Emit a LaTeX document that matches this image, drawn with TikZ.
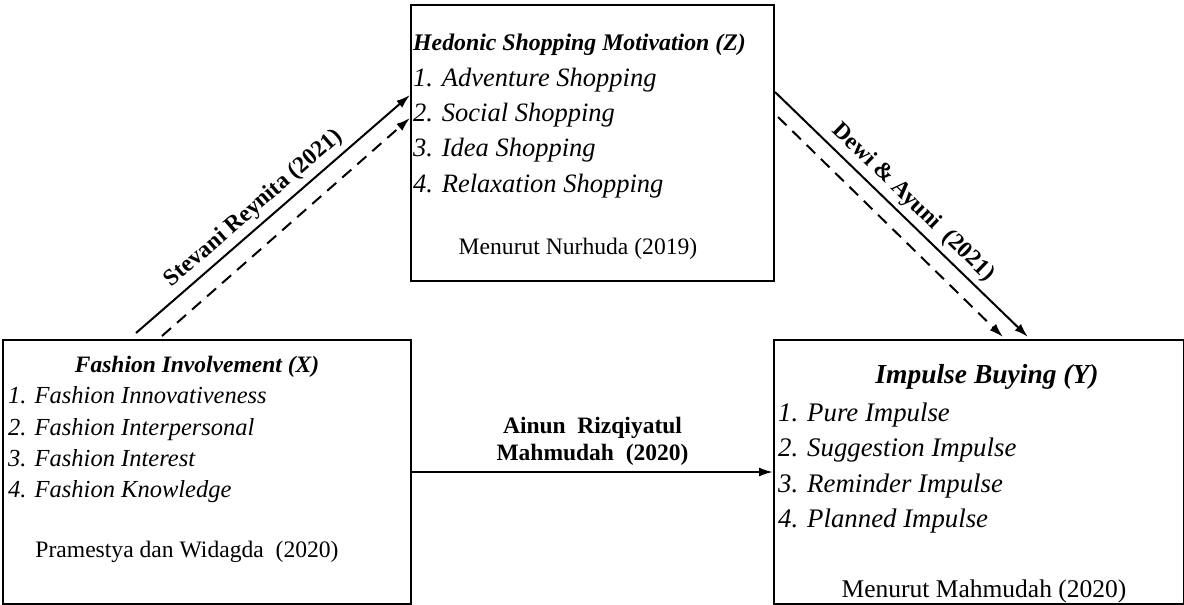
\documentclass[tikz,border=0pt]{standalone}
\usepackage{fontspec}
\setmainfont{Liberation Serif}
\usetikzlibrary{arrows.meta}

\begin{document}
\begin{tikzpicture}[x=1pt,y=-1pt,
  box/.style={draw, line width=2pt, inner sep=0pt, anchor=north west},
  head/.style={inner sep=0pt, font=\fontsize{23.5}{28}\selectfont\bfseries\itshape},
  item/.style={inner sep=0pt, anchor=base west},
  source/.style={inner sep=0pt, anchor=base, font=\fontsize{23.6}{28}\selectfont},
  link/.style={line width=2pt, -{Latex[length=14pt,width=9pt]}},
  ref/.style={font=\fontsize{23.5}{27}\selectfont\bfseries}]
\useasboundingbox (0,0) rectangle (1184,605);
\coordinate (x0) at (2,339);
\coordinate (z0) at (410,4);
\coordinate (y0) at (773,339);
\begin{scope}
% draws boxes
\node[box, minimum width=408pt, minimum height=264pt] (X) at (x0) {};
\node[box, minimum width=363pt, minimum height=276pt] (Z) at (z0) {};
\node[box, minimum width=410pt, minimum height=264pt] (Y) at (y0) {};
% labels fashion involvement
\node[head, anchor=base] (xhead) at (197,372) {Fashion Involvement (X)};
\begin{scope}[font=\fontsize{24.5}{30}\selectfont\itshape]
\node[item] (x1) at (8,403) {1. Fashion Innovativeness};
\node[item] (x2) at (8,435) {2. Fashion Interpersonal};
\node[item] (x3) at (8,466) {3. Fashion Interest};
\node[item] (x4) at (8,497) {4. Fashion Knowledge};
\end{scope}
\node[source] (xsrc) at (187,557) {Pramestya dan Widagda\ \ (2020)};
% labels hedonic shopping motivation
\node[head, anchor=base west, font=\fontsize{23.8}{28}\selectfont\bfseries\itshape] (zhead) at (413,50) {Hedonic Shopping Motivation (Z)};
\begin{scope}[font=\fontsize{26.5}{32}\selectfont\itshape]
\node[item] (z1) at (413,86) {1. Adventure Shopping};
\node[item] (z2) at (413,121) {2. Social Shopping};
\node[item] (z3) at (413,156) {3. Idea Shopping};
\node[item] (z4) at (413,192) {4. Relaxation Shopping};
\end{scope}
\node[source] (zsrc) at (578,254) {Menurut Nurhuda (2019)};
% labels impulse buying
\node[head, anchor=base, font=\fontsize{27.5}{32}\selectfont\bfseries\itshape] (yhead) at (987,383) {Impulse Buying (Y)};
\begin{scope}[font=\fontsize{26.8}{32}\selectfont\itshape]
\node[item] (y1) at (778,421) {1. Pure Impulse};
\node[item] (y2) at (778,456) {2. Suggestion Impulse};
\node[item] (y3) at (778,492) {3. Reminder Impulse};
\node[item] (y4) at (778,527) {4. Planned Impulse};
\end{scope}
\node[source, font=\fontsize{25.5}{30}\selectfont] (ysrc) at (984,597) {Menurut Mahmudah (2020)};
% draws paths
\draw[link] ([xshift=134pt,yshift=6pt]X.north west) -- node[ref, pos=0.47, above, sloped, inner sep=5pt] {Stevani Reynita (2021)} ([yshift=-91pt]Z.north west);
\draw[link, dash pattern=on 12pt off 8pt] ([xshift=160pt,yshift=3pt]X.north west) -- ([yshift=-114pt]Z.north west);
\draw[link] ([yshift=-88pt]Z.north east) -- node[ref, pos=0.5, above, sloped, inner sep=5pt] {Dewi \& Ayuni\ \ (2021)} ([xshift=255pt,yshift=2pt]Y.north west);
\draw[link, dash pattern=on 12pt off 8pt] ([xshift=3pt,yshift=-113pt]Z.north east) -- ([xshift=230pt,yshift=2pt]Y.north west);
\draw[link] (X) -- node[ref, above, align=center, inner sep=6pt] {Ainun\ \ Rizqiyatul\\Mahmudah\ \ (2020)} (Y);
\end{scope}
\end{tikzpicture}
\end{document}
